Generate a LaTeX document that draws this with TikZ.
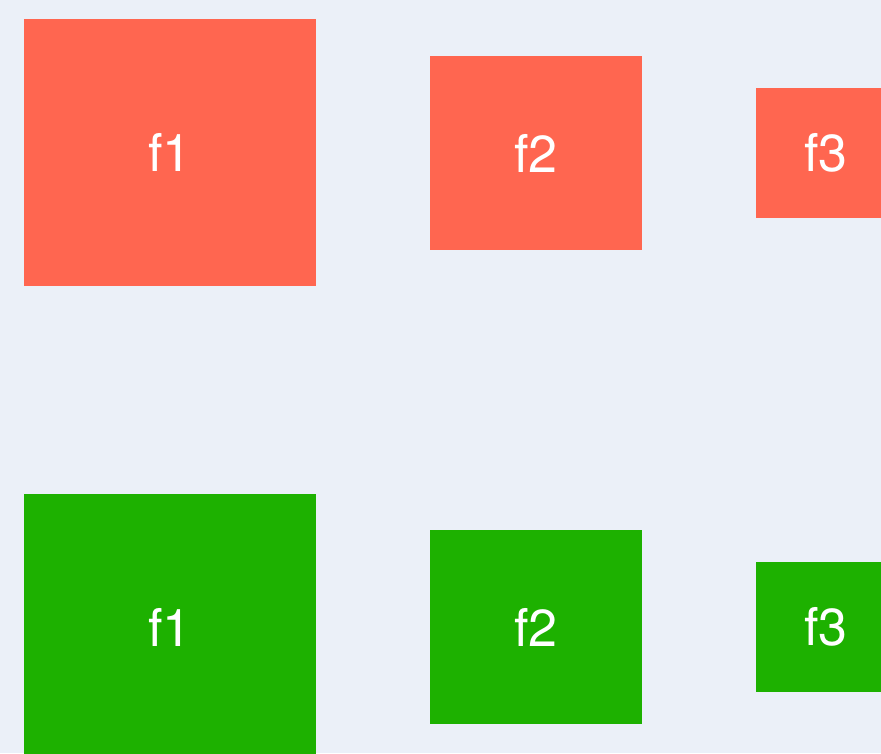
\documentclass[tikz,border=0pt]{standalone}
\usepackage{fontspec}
\setmainfont{TeX Gyre Heros}
\usepackage{tikz}
\usetikzlibrary{positioning}

\definecolor{bgblue}{HTML}{EBF0F8}
\definecolor{boxred}{HTML}{FF6650}
\definecolor{boxgreen}{HTML}{1DB100}

\begin{document}
\begin{tikzpicture}[x=1pt, y=-1pt,
  every node/.style={font=\fontsize{52}{58}\selectfont, text=white, inner sep=0pt},
  redbox/.style={fill=boxred},
  greenbox/.style={fill=boxgreen}]

% Background and page size
\fill[bgblue] (0,0) rectangle (881,753);
\useasboundingbox (0,0) rectangle (881,753);
\clip (0,0) rectangle (881,753);

% Top row
\node[redbox, minimum width=292pt, minimum height=267pt] (rf1) at (170,152.5) {f1};
\node[redbox, minimum width=212pt, minimum height=194pt] (rf2) at (536,153) {f2};
\node[redbox, minimum width=140pt, minimum height=130pt] (rf3) at (826,153) {f3};

% Bottom row
\node[greenbox, minimum width=292pt, minimum height=267pt] (gf1) at (170,627.5) {f1};
\node[greenbox, minimum width=212pt, minimum height=194pt] (gf2) at (536,627) {f2};
\node[greenbox, minimum width=140pt, minimum height=130pt] (gf3) at (826,627) {f3};

\end{tikzpicture}
\end{document}
